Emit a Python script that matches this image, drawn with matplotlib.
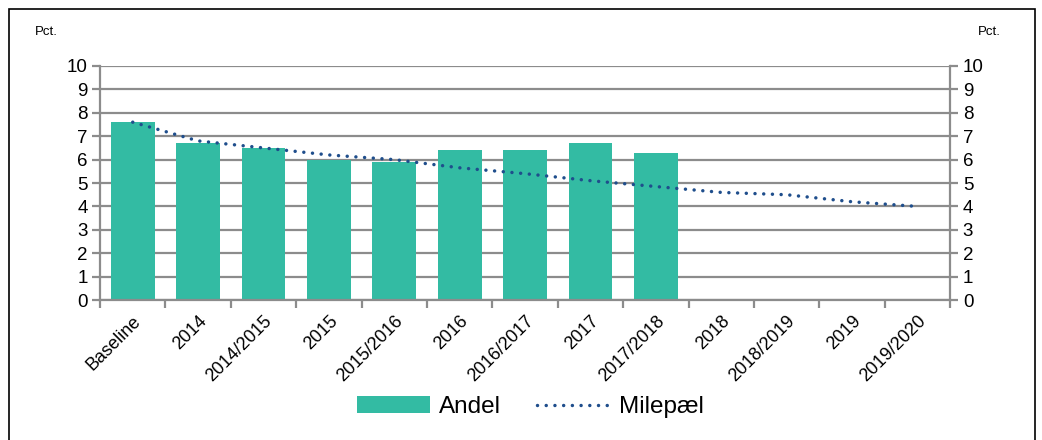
import matplotlib
matplotlib.use("Agg")
import matplotlib.pyplot as plt
import numpy as np
from matplotlib.patches import Rectangle

plt.rcParams['font.family'] = ['Liberation Sans', 'DejaVu Sans']

categories = ["Baseline", "2014", "2014/2015", "2015", "2015/2016", "2016",
              "2016/2017", "2017", "2017/2018", "2018", "2018/2019", "2019",
              "2019/2020"]
andel = [7.6, 6.7, 6.5, 6.0, 5.9, 6.4, 6.4, 6.7, 6.3]
milepael = [7.6, 6.8, 6.5, 6.2, 6.0, 5.65, 5.4, 5.1, 4.85, 4.6, 4.5, 4.2, 4.0]

teal = "#33BBA3"
navy = "#1F4E8C"
grid_col = "#8C8C8C"

fig = plt.figure(figsize=(10.42, 4.4), dpi=100)
ax = fig.add_axes([0.096, 0.318, 0.816, 0.532])

x = np.arange(len(categories))
bars = ax.bar(x[:len(andel)], andel, width=0.67, color=teal, zorder=2, label="Andel")
line, = ax.plot(x, milepael, color=navy, linestyle=(0, (0.01, 2.5)), linewidth=2.5,
                dash_capstyle="round", zorder=3, label="Milepæl")

ax.set_xlim(-0.5, len(categories) - 0.5)
ax.set_ylim(0, 10)
ax.set_yticks(range(0, 11))
ax.yaxis.grid(True, color=grid_col, linewidth=1.6, zorder=0)
ax.set_axisbelow(True)

ax.spines["top"].set_visible(False)
for side in ["left", "right", "bottom"]:
    ax.spines[side].set_color(grid_col)
    ax.spines[side].set_linewidth(1.6)

ax.tick_params(axis="y", which="both", direction="out", length=6, width=1.6,
               color=grid_col, labelsize=13.5, left=True, right=True,
               labelleft=True, labelright=True, pad=3)

# x ticks between categories
ax.set_xticks(np.arange(-0.5, len(categories), 1.0), minor=False)
ax.set_xticklabels([])
ax.set_xticks(x, minor=True)
ax.set_xticklabels(categories, minor=True, rotation=45, ha="right",
                   rotation_mode="anchor", fontsize=13)
ax.tick_params(axis="x", which="major", direction="out", length=6, width=1.6,
               color=grid_col)
ax.tick_params(axis="x", which="minor", length=0, pad=9)

fig.text(35 / 1042, 1 - 32 / 440, "Pct.", fontsize=9.5, va="center", ha="left")
fig.text(1001 / 1042, 1 - 32 / 440, "Pct.", fontsize=9.5, va="center", ha="right")

fig.legend([bars, line], ["Andel", "Milepæl"], loc="center",
           bbox_to_anchor=(0.509, 1 - 407 / 440), ncol=2,
           frameon=False, fontsize=17.5, handlelength=3.0, handleheight=0.65,
           columnspacing=1.5, handletextpad=0.35)

fig.patches.append(Rectangle((9 / 1042, -0.01), (1035 - 9) / 1042, 1.01 - 9 / 440,
                             transform=fig.transFigure, fill=False,
                             edgecolor="black", linewidth=1.2))

fig.savefig("out.png", dpi=100)
plt.close(fig)
